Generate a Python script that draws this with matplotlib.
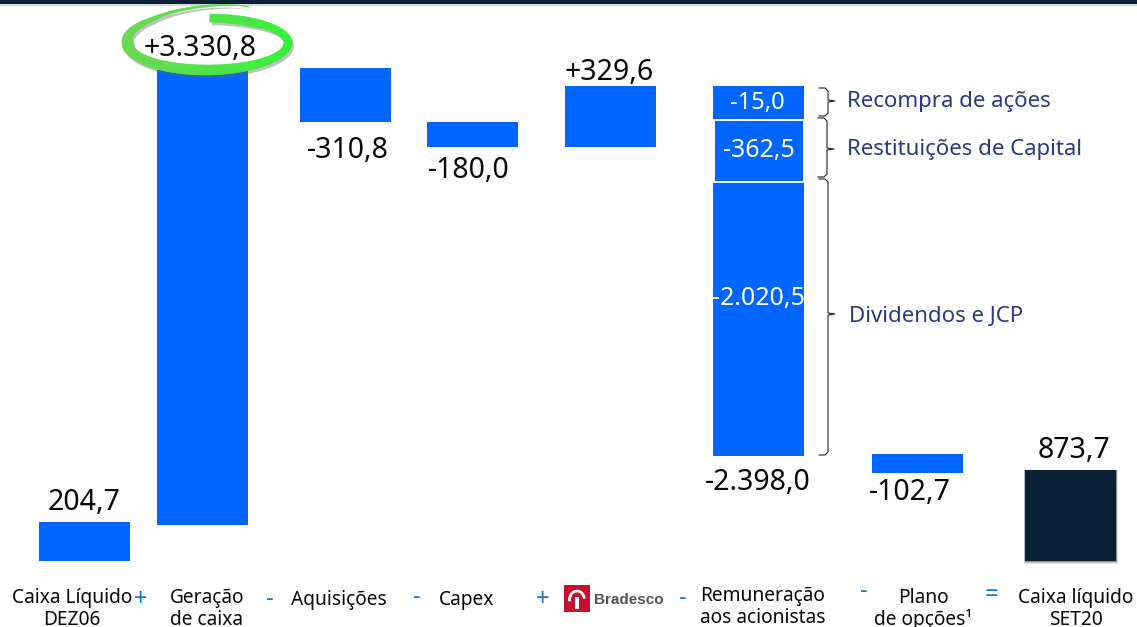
import numpy as np
import matplotlib
matplotlib.use("Agg")
import matplotlib.pyplot as plt
from matplotlib.patches import Rectangle, Polygon, Arc

# Data
categories = ["Caixa Líquido\nDEZ06", "Geração\nde caixa", "Aquisições", "Capex", "",
              "Remuneração\naos acionistas", "Plano\nde opções¹", "Caixa líquido\nSET20"]
value_labels = ["204,7", "+3.330,8", "-310,8", "-180,0", "+329,6", "-2.398,0", "-102,7", "873,7"]
# drawn extents of each bar on the picture's (non proportional) scale
bar_low = [66, 102, 505, 480, 480, 171, 154, 66]
bar_high = [105, 557, 559, 505, 541, 541, 173, 157]
bar_colors = ["#0066ff"] * 7 + ["#0a2035"]
stack_values = ["-15,0", "-362,5", "-2.020,5"]
stack_low = [508, 446, 171]
stack_high = [541, 506, 444]
stack_names = ["Recompra de ações", "Restituições de Capital", "Dividendos e JCP"]
operators = ["+", "-", "-", "+", "-", "-", "="]

BLUE, NAVY, TXT = "#0066ff", "#2b3a80", "#0a0a0a"
FONT = "Noto Sans"

fig = plt.figure(figsize=(11.37, 6.27), dpi=100)
ax = fig.add_axes([0, 0, 1, 1])
ax.set_xlim(0, 1137)
ax.set_ylim(0, 627)
ax.axis("off")

x = [84.5, 202.5, 345.5, 472.5, 610.5, 758.5, 917.5, 1070.5]
w = 91

# top strip
ax.add_patch(Rectangle((0, 623), 1137, 4, color="#0a2035", lw=0))
ax.add_patch(Rectangle((0, 621.5), 1137, 1.5, color="#d5d8dc", lw=0))

# shadow of the final bar
for d, a in ((3, .10), (2, .15), (1, .25)):
    ax.add_patch(Rectangle((x[7]-w/2-d/2, bar_low[7]-d), w+d, bar_high[7]-bar_low[7]+d, color="k", alpha=a, lw=0))

for i, (xi, lo, hi, c) in enumerate(zip(x, bar_low, bar_high, bar_colors)):
    if i == 5:
        continue
    ax.bar(xi, hi-lo, w, bottom=lo, color=c, lw=0, zorder=2)

# stacked column
stack_text_y = [524, 476, 329]
for lo, hi, v, ty in zip(stack_low, stack_high, stack_values, stack_text_y):
    ax.bar(x[5], hi-lo, w if v != "-362,5" else w-3, bottom=lo, color=BLUE, lw=0, zorder=2)
    ax.text(x[5]+(-1 if v == "-15,0" else 0), ty, v, color="white", ha="center", va="center",
            fontsize=18 if v != "-15,0" else 17, family=FONT, zorder=3)

# value labels
lab_xy = [(84, 125), (200, 579), (348, 477), (469, 456), (609, 555), (758, 145), (910, 134), (1074, 177)]
for (lx, ly), s in zip(lab_xy, value_labels):
    ax.text(lx, ly, s, ha="center", va="center", fontsize=20.5, color=TXT, family=FONT, zorder=6)

# green ring: starts thick at the top, runs clockwise and ends in a thin tip
t = np.radians(np.linspace(88, -297, 300))
cx, cy = 207, 584
aa = np.interp(t[::-1], np.radians([-297, -180, 88]), [92, 85, 85])[::-1]
bb = np.interp(t[::-1], np.radians([-297, -230, -90, 88]), [41, 33, 32, 29])[::-1]
wid = np.interp(t[::-1], np.radians([-297, -240, -180, -90, 0, 60, 88]), [0.2, 3, 11, 10, 8, 9, 8])[::-1]
outer = np.c_[cx + aa*np.cos(t), cy + bb*np.sin(t)]
inner = np.c_[cx + (aa-wid)*np.cos(t), cy + (bb-wid)*np.sin(t)]
ring = np.r_[outer, inner[::-1]]
ax.add_patch(Polygon(ring + [2, -3], closed=True, color="#666666", alpha=.4, lw=0, zorder=4))
c_right, c_left = np.array([0.2, 0.95, 0.22]), np.array([0.42, 0.85, 0.32])
for k in range(len(t)-1):
    f = (np.cos(t[k]) + 1) / 2
    ax.add_patch(Polygon([outer[k], outer[k+1], inner[k+1], inner[k]], closed=True,
                         facecolor=c_right*f + c_left*(1-f), edgecolor=c_right*f + c_left*(1-f), lw=0.4, zorder=5))

# braces
def brace(x0, top, bottom, mid):
    xs = [x0, x0+6, x0+9, x0+9, x0+16, x0+9, x0+9, x0+6, x0]
    ys = [top, top, top-3, mid+1, mid, mid-1, bottom+3, bottom, bottom]
    ax.plot(xs, ys, color="#222222", lw=0.8, zorder=3)
brace(819, 539, 511, 526)
brace(818, 509, 450, 478)
brace(819, 448, 172, 313)

for (tx, ty), s in zip([(847, 526), (847, 477), (849, 310)], stack_names):
    ax.text(tx, ty, s, ha="left", va="center", fontsize=16, color=NAVY, family=FONT, fontweight="medium")

# categories
for xi, ly, s in zip([72, 207, 339, 467, 0, 763, 923, 1076], [18, 18, 27, 27, 0, 20, 18, 18], categories):
    if s:
        ax.text(xi, ly, s, ha="center", va="center", fontsize=13.8, color=TXT, family=FONT, linespacing=1.1)

# operators
for ox, oy, s in zip([141, 270, 417, 543, 683, 864, 991], [27, 28, 30, 27, 29, 36, 32], operators):
    ax.text(ox, oy, s, ha="center", va="center", fontsize=17, color="#0f77c8", family=FONT,
            fontweight="bold" if s in "-=" else "normal")

# Bradesco logo
ax.add_patch(Rectangle((564, 15), 26, 27, color="#c8102e", lw=0))
ax.add_patch(Arc((577, 27), 15, 18, theta1=10, theta2=190, color="white", lw=2))
ax.add_patch(Rectangle((575, 18), 4, 12, color="white", lw=0))
ax.text(594, 27, "Bradesco", ha="left", va="center", fontsize=11, color="#555555", family="Liberation Sans", fontweight="bold")

fig.savefig("out.png", dpi=100)
